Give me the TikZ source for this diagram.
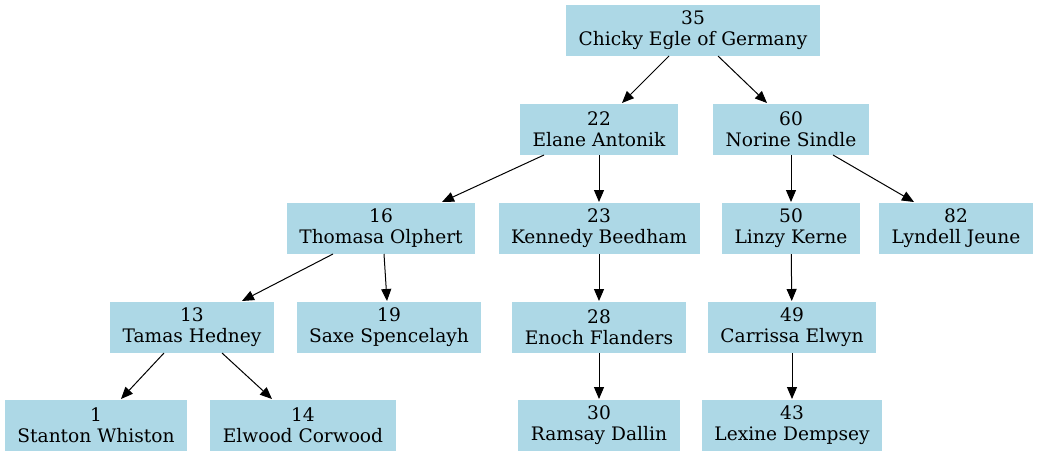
\documentclass[tikz,border=0pt]{standalone}
\usepackage{fontspec}
\setmainfont{DejaVu Serif}
\usetikzlibrary{arrows.meta}

\begin{document}
\begin{tikzpicture}[
						x=1pt, y=-1pt,
						line width=1pt,
						>={Triangle[length=12pt,width=10pt]},
						main/.style = {fill={rgb,255:red,173;green,216;blue,230}, align=center, inner xsep=12.5pt, minimum height=51pt, font=\fontsize{18.6}{21}\selectfont}
					]
					\useasboundingbox (0,0) rectangle (1038,456);
					\node[main] (n35) at (693,30) {35\\Chicky Egle of Germany};
					\node[main] (n22) at (599,129) {22\\Elane Antonik};
					\node[main] (n60) at (791,129) {60\\Norine Sindle};
					\node[main] (n16) at (381,228) {16\\Thomasa Olphert};
					\node[main] (n23) at (599,228) {23\\Kennedy Beedham};
					\node[main] (n50) at (791,228) {50\\Linzy Kerne};
					\node[main] (n82) at (956,228) {82\\Lyndell Jeune};
					\node[main] (n13) at (192,327) {13\\Tamas Hedney};
					\node[main] (n19) at (389,327) {19\\Saxe Spencelayh};
					\node[main] (n28) at (599,327) {28\\Enoch Flanders};
					\node[main] (n49) at (792,327) {49\\Carrissa Elwyn};
					\node[main] (n1) at (96,425) {1\\Stanton Whiston};
					\node[main] (n14) at (303,425) {14\\Elwood Corwood};
					\node[main] (n30) at (599,425) {30\\Ramsay Dallin};
					\node[main] (n43) at (792,425) {43\\Lexine Dempsey};
					\draw[->] ([xshift=-24pt]n35.south) to ([xshift=23pt]n22.north);
					\draw[->] ([xshift=25pt]n35.south) to ([xshift=-24pt]n60.north);
					\draw[->] ([xshift=-55pt]n22.south) to ([xshift=61pt]n16.north);
					\draw[->] (n22) to (n23);
					\draw[->] (n60) to (n50);
					\draw[->] ([xshift=42pt]n60.south) to ([xshift=-42pt]n82.north);
					\draw[->] ([xshift=-48pt]n16.south) to ([xshift=50pt]n13.north);
					\draw[->] ([xshift=3pt]n16.south) to ([xshift=-2pt]n19.north);
					\draw[->] (n23) to (n28);
					\draw[->] (n50) to (n49);
					\draw[->] ([xshift=-28pt]n13.south) to ([xshift=25pt]n1.north);
					\draw[->] ([xshift=30pt]n13.south) to ([xshift=-31pt]n14.north);
					\draw[->] (n28) to (n30);
					\draw[->] (n49) to (n43);
				\end{tikzpicture}
\end{document}
